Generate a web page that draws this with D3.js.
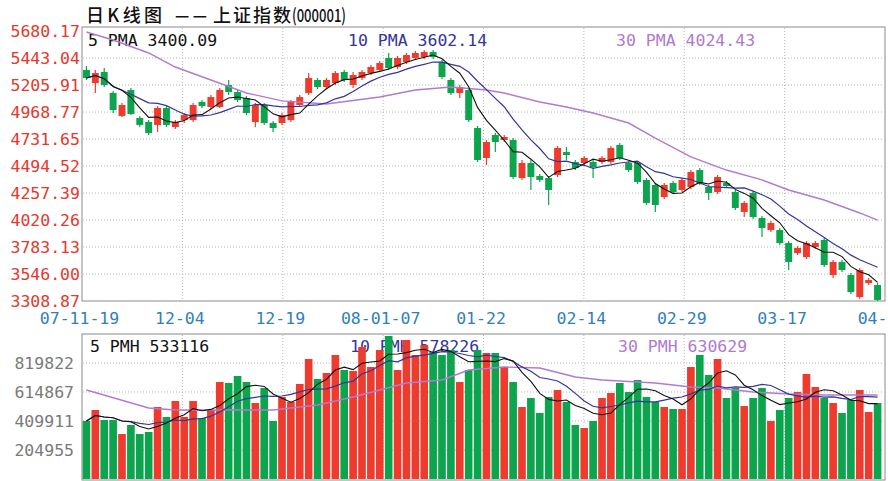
<!DOCTYPE html>
<html>
<head>
<meta charset="utf-8">
<script src="https://cdn.jsdelivr.net/npm/d3@7/dist/d3.min.js"></script>
<style>
  body { margin: 0; background: #fff; }
  svg { display: block; }
  .mono { font-family: "DejaVu Sans Mono", monospace; font-size: 16.5px; }
  .grid line { stroke: #b8b8b8; stroke-dasharray: 1 2; }
  .title { font-family: "Noto Sans CJK SC"; font-size: 18px; font-weight: 500; fill: #111; }
</style>
</head>
<body>
<div id="chart"></div>
<script>
// x axis labels (one per vertical grid line)
const dates = ["07-11-19", "12-04", "12-19", "08-01-07", "01-22", "02-14", "02-29", "03-17", "04-01"];

// daily candles, 2007-11-19 .. 2008-04
const open = [5338,5223,5320,5136,4934,5162,4916,4881,4855,5004, 4837,4898,4898,5057,5013,5013,5206,5144,5092,4881,
  5030,4872,4872,4898,5030,5136,5250,5188,5223,5320, 5206,5267,5311,5338,5443,5364,5408,5443,5452,5496,
  5408,5250,5136,5162,4828,4565,4767,4723,4723,4389, 4521,4407,4389,4416,4617,4530,4521,4530,4530,4530,
  4679,4521,4521,4372,4328,4222,4345,4284,4310,4459, 4310,4266,4345,4266,4091,4257,4038,3932,3932,3818,
  3730,3695,3783,3845,3537,3651,3537,3344,3467,3449];
const high = [5373,5338,5355,5153,5048,5180,4934,4898,5021,5021, 4898,4960,5048,5074,5118,5180,5250,5162,5109,5048,
  5048,4890,4960,5074,5118,5311,5267,5267,5329,5338, 5320,5338,5382,5417,5487,5461,5487,5504,5513,5513,
  5425,5267,5206,5180,4846,4723,4784,4767,4740,4547, 4547,4424,4407,4670,4661,4547,4582,4547,4582,4670,
  4697,4538,4538,4389,4345,4345,4363,4389,4459,4477, 4328,4416,4363,4284,4187,4275,4055,4011,3950,3836,
  3792,3836,3836,3862,3669,3669,3555,3599,3511,3467];
const low = [5250,5136,5188,4960,4925,4942,4837,4767,4793,4837, 4820,4872,4881,5004,4995,5004,5118,5057,4942,4837,
  4855,4793,4855,4881,5013,5118,5171,5171,5206,5232, 5180,5250,5294,5320,5338,5346,5390,5425,5434,5434,
  5259,5118,5092,4881,4530,4503,4617,4705,4380,4372, 4284,4354,4152,4398,4547,4459,4503,4389,4512,4512,
  4547,4442,4336,4152,4091,4205,4249,4266,4293,4328, 4196,4249,4301,4108,4047,4029,3871,3915,3801,3581,
  3713,3678,3766,3607,3511,3564,3370,3327,3449,3309];
const close = [5267,5311,5206,4986,5030,4951,4855,4784,5004,4855, 4881,4942,5030,5021,5100,5162,5144,5074,4960,5030,
  4872,4828,4942,5057,5100,5267,5188,5250,5311,5250, 5294,5320,5364,5399,5355,5443,5469,5487,5496,5452,
  5276,5136,5188,4898,4547,4705,4705,4749,4398,4521, 4398,4372,4284,4653,4591,4477,4565,4486,4565,4653,
  4565,4459,4354,4170,4152,4328,4266,4372,4442,4345, 4257,4398,4319,4126,4170,4047,3950,3994,3818,3651,
  3774,3818,3818,3625,3651,3581,3388,3581,3493,3318];
const volume = [409900,487700,417000,417000,318000,381600,318000,332200,508900,438200,
  551300,438200,551300,431100,487700,685500,678500,727900,685500,537100,
  643100,409900,579500,544200,671400,848100,706700,749200,876400,770400,
  763300,932900,791600,911700,1010600,770400,982400,876400,947000,897600,
  876400,911700,685500,770400,911700,890500,890500,791600,685500,508900,
  572500,466500,579500,629000,544200,381600,360400,409900,572500,607800,
  678500,614900,699700,579500,544200,508900,494700,494700,791600,876400,
  735000,848100,572500,643100,515900,572500,643100,409900,487700,572500,
  614900,742100,650200,572500,537100,466500,558300,629000,473500,537100];

// 30-day averages (they include days before the window)
const ma30Day = [0,3,7,10,14,18,22,27,33,37,41,45,47,51,54,57,61,64,68,72,76,79,83,87,89];
const ma30Price = [5671,5601,5487,5364,5250,5136,5066,5039,5100,5162,5188,5162,5136,5057,5013,4960,4872,4740,4574,4459,4372,4284,4196,4082,4020];
const volMa30Day = [0,7,10,21,26,30,36,40,43,47,51,55,58,64,68,71,75,79,83,89];
const volMa30 = [629000,501800,487700,487700,523000,579500,678500,699700,770400,791600,784500,720900,699700,678500,650200,643100,614900,600700,593700,593700];

// axis labels
const priceTicks = ["5680.17","5443.04","5205.91","4968.77","4731.65","4494.52","4257.39","4020.26","3783.13","3546.00","3308.87"];
const volTicks = ["819822","614867","409911","204955"];
const priceLegend = ["5 PMA 3400.09", "10 PMA 3602.14", "30 PMA 4024.43"];
const volLegend = ["5 PMH 533116", "10 PMH 578226", "30 PMH 630629"];

const RED = "#ee3b2d", GREEN = "#0ca44c";
const lineColors = ["#111", "#35359c", "#b07ad0"];

const svg = d3.select("#chart").append("svg").attr("width", 888).attr("height", 481);

const x = d3.scaleBand().domain(d3.range(close.length)).range([82, 882]);
const gx = d3.scaleLinear().domain([0, dates.length - 1]).range([82, 885]);
const yP = d3.scaleLinear().domain([+priceTicks[priceTicks.length - 1], +priceTicks[0]]).range([301, 31]);
const yV = d3.scaleLinear().domain([0, 1024777.5]).range([479, 334]);
const cx = i => x(i) + x.bandwidth() / 2;
const isUp = i => close[i] >= open[i];

// moving average with a short window at the start
function movAvg(arr, n) {
  return arr.map((d, i) => d3.mean(arr.slice(Math.max(0, i - n + 1), i + 1)));
}

// title, in pieces so the spacing follows the original
svg.append("text").attr("class", "title").attr("x", 86).attr("y", 22)
  .attr("textLength", 76).attr("lengthAdjust", "spacing").text("日K线图");
svg.append("text").attr("class", "title").attr("x", 175).attr("y", 22)
  .attr("textLength", 32).attr("lengthAdjust", "spacingAndGlyphs").text("— —");
svg.append("text").attr("class", "title").attr("x", 213).attr("y", 22)
  .attr("textLength", 78).attr("lengthAdjust", "spacing").text("上证指数");
svg.append("text").attr("class", "title").attr("x", 292).attr("y", 22)
  .attr("textLength", 54).attr("lengthAdjust", "spacingAndGlyphs")
  .text("(000001)");

// panel frames
svg.append("rect").attr("x", 82).attr("y", 27).attr("width", 803).attr("height", 274)
  .attr("fill", "none").attr("stroke", "#8a8a8a");
svg.append("rect").attr("x", 82).attr("y", 334).attr("width", 803).attr("height", 146)
  .attr("fill", "none").attr("stroke", "#8a8a8a");

// grid lines
const grid = svg.append("g").attr("class", "grid");
grid.selectAll(".hp").data(priceTicks.slice(1, -1)).join("line")
  .attr("x1", 83).attr("x2", 884).attr("y1", d => yP(+d)).attr("y2", d => yP(+d));
grid.selectAll(".hv").data(volTicks).join("line")
  .attr("x1", 83).attr("x2", 884).attr("y1", d => yV(+d)).attr("y2", d => yV(+d));
grid.selectAll(".vp").data(d3.range(1, dates.length - 1)).join("line")
  .attr("x1", d => gx(d)).attr("x2", d => gx(d)).attr("y1", 28).attr("y2", 300);
grid.selectAll(".vv").data(d3.range(1, dates.length - 1)).join("line")
  .attr("x1", d => gx(d)).attr("x2", d => gx(d)).attr("y1", 335).attr("y2", 479);

// axes
const axP = svg.append("g").attr("transform", "translate(80,0)")
  .call(d3.axisLeft(yP).tickValues(priceTicks.map(Number)).tickFormat((d, i) => priceTicks[i]).tickSize(0).tickPadding(0));
axP.select(".domain").remove();
axP.selectAll("text").attr("class", "mono").attr("fill", "#e8372b");

const axV = svg.append("g").attr("transform", "translate(74,0)")
  .call(d3.axisLeft(yV).tickValues(volTicks.map(Number)).tickFormat((d, i) => volTicks[i]).tickSize(0).tickPadding(0));
axV.select(".domain").remove();
axV.selectAll("text").attr("class", "mono").attr("fill", "#7a7a7a");

const axX = svg.append("g").attr("transform", "translate(-3,312)")
  .call(d3.axisBottom(gx).tickValues(d3.range(dates.length)).tickFormat(i => dates[i]).tickSize(0).tickPadding(0));
axX.select(".domain").remove();
axX.selectAll("text").attr("class", "mono").attr("fill", "#2f7fc0");

// legends (drawn before the marks, the bars cover them in places)
const legX = [88, 348, 616];
svg.selectAll(".pleg").data(priceLegend).join("text").attr("class", "mono")
  .attr("x", (d, i) => legX[i]).attr("y", 46).attr("fill", (d, i) => lineColors[i]).text(d => d);
svg.selectAll(".vleg").data(volLegend).join("text").attr("class", "mono")
  .attr("x", (d, i) => legX[i] + 2).attr("y", 352).attr("fill", (d, i) => lineColors[i]).text(d => d);

// candles
const bw = x.bandwidth() * 0.78;
const candles = svg.append("g").selectAll("g").data(d3.range(close.length)).join("g")
  .attr("fill", i => isUp(i) ? RED : GREEN).attr("stroke", i => isUp(i) ? RED : GREEN);
candles.append("line").attr("x1", cx).attr("x2", cx)
  .attr("y1", i => yP(high[i])).attr("y2", i => yP(low[i])).attr("stroke-width", 1.2);
candles.append("rect").attr("x", i => cx(i) - bw / 2).attr("width", bw)
  .attr("y", i => yP(Math.max(open[i], close[i])))
  .attr("height", i => Math.max(1, Math.abs(yP(open[i]) - yP(close[i])))).attr("stroke", "none");

// volume bars
const vw = x.bandwidth() * 0.86;
svg.append("g").selectAll("rect").data(d3.range(volume.length)).join("rect")
  .attr("x", i => cx(i) - vw / 2).attr("width", vw)
  .attr("y", i => yV(volume[i])).attr("height", i => yV(0) - yV(volume[i]))
  .attr("fill", i => isUp(i) ? RED : GREEN);

// moving average lines
function drawLine(pts, y, color, w) {
  svg.append("path").datum(pts)
    .attr("d", d3.line().x(d => cx(d[0])).y(d => y(d[1])))
    .attr("fill", "none").attr("stroke", color).attr("stroke-width", w);
}
const idx = d3.range(close.length);
drawLine(ma30Day.map((d, i) => [d, ma30Price[i]]), yP, lineColors[2], 1.4);
drawLine(idx.map(i => [i, movAvg(close, 10)[i]]), yP, lineColors[1], 1.2);
drawLine(idx.map(i => [i, movAvg(close, 5)[i]]), yP, lineColors[0], 1.1);

drawLine(volMa30Day.map((d, i) => [d, volMa30[i]]), yV, lineColors[2], 1.4);
drawLine(idx.map(i => [i, movAvg(volume, 10)[i]]), yV, lineColors[1], 1.2);
drawLine(idx.map(i => [i, movAvg(volume, 5)[i]]), yV, lineColors[0], 1.1);
</script>
</body>
</html>
